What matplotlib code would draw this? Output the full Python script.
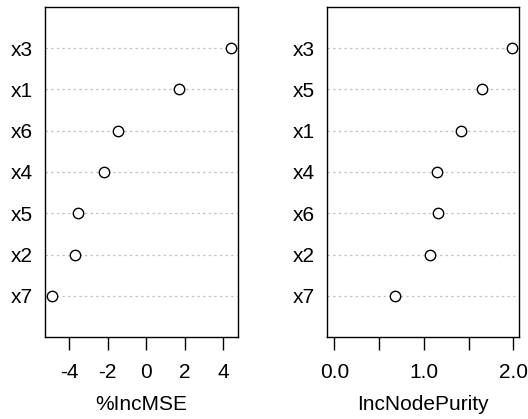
import matplotlib
matplotlib.use("Agg")
import matplotlib.pyplot as plt

plt.rcParams['font.family'] = ['Liberation Sans', 'DejaVu Sans']

# variable importance, ordered bottom -> top
mse_vars = ['x7', 'x2', 'x5', 'x4', 'x6', 'x1', 'x3']
mse_vals = [-4.87, -3.70, -3.51, -2.17, -1.46, 1.69, 4.39]

pur_vars = ['x7', 'x2', 'x6', 'x4', 'x1', 'x5', 'x3']
pur_vals = [0.68, 1.07, 1.16, 1.15, 1.42, 1.65, 1.98]

mse_ticks = [-4, -2, 0, 2, 4]
mse_ticklabels = ['-4', '-2', '0', '2', '4']
pur_ticks = [0.0, 0.5, 1.0, 1.5, 2.0]
pur_ticklabels = ['0.0', '', '1.0', '', '2.0']

fig = plt.figure(figsize=(5.28, 4.19), dpi=100)
ax1 = fig.add_axes([0.0852, 0.1957, 0.3655, 0.7876])
ax2 = fig.add_axes([0.6199, 0.1957, 0.3625, 0.7876])


def dotchart(ax, labels, vals, ticks, ticklabels, xlabel, xmin):
    y = list(range(1, len(vals) + 1))
    for yy in y:
        ax.axhline(yy, color='#c4c4c4', lw=0.9, ls=(0, (2, 2.5)), zorder=1)
    ax.plot(vals, y, 'o', mfc='white', mec='black', ms=7.5, mew=1.0,
            zorder=3, ls='none')
    lo = min(vals) if xmin is None else xmin
    hi = max(vals)
    pad = (hi - lo) * 0.04
    ax.set_xlim(lo - pad, hi + pad)
    ax.set_ylim(0, len(vals) + 1)
    ax.set_yticks(y)
    ax.set_yticklabels(labels)
    ax.set_xticks(ticks)
    ax.set_xticklabels(ticklabels)
    ax.tick_params(axis='y', length=0, pad=9, labelsize=15)
    ax.tick_params(axis='x', direction='out', length=9, width=1,
                   pad=10, labelsize=15)
    ax.set_xlabel(xlabel, fontsize=15, labelpad=9)
    for s in ax.spines.values():
        s.set_linewidth(1.0)


dotchart(ax1, mse_vars, mse_vals, mse_ticks, mse_ticklabels, '%IncMSE', None)
dotchart(ax2, pur_vars, pur_vals, pur_ticks, pur_ticklabels, 'IncNodePurity', 0)

fig.savefig('out.png', dpi=100)
